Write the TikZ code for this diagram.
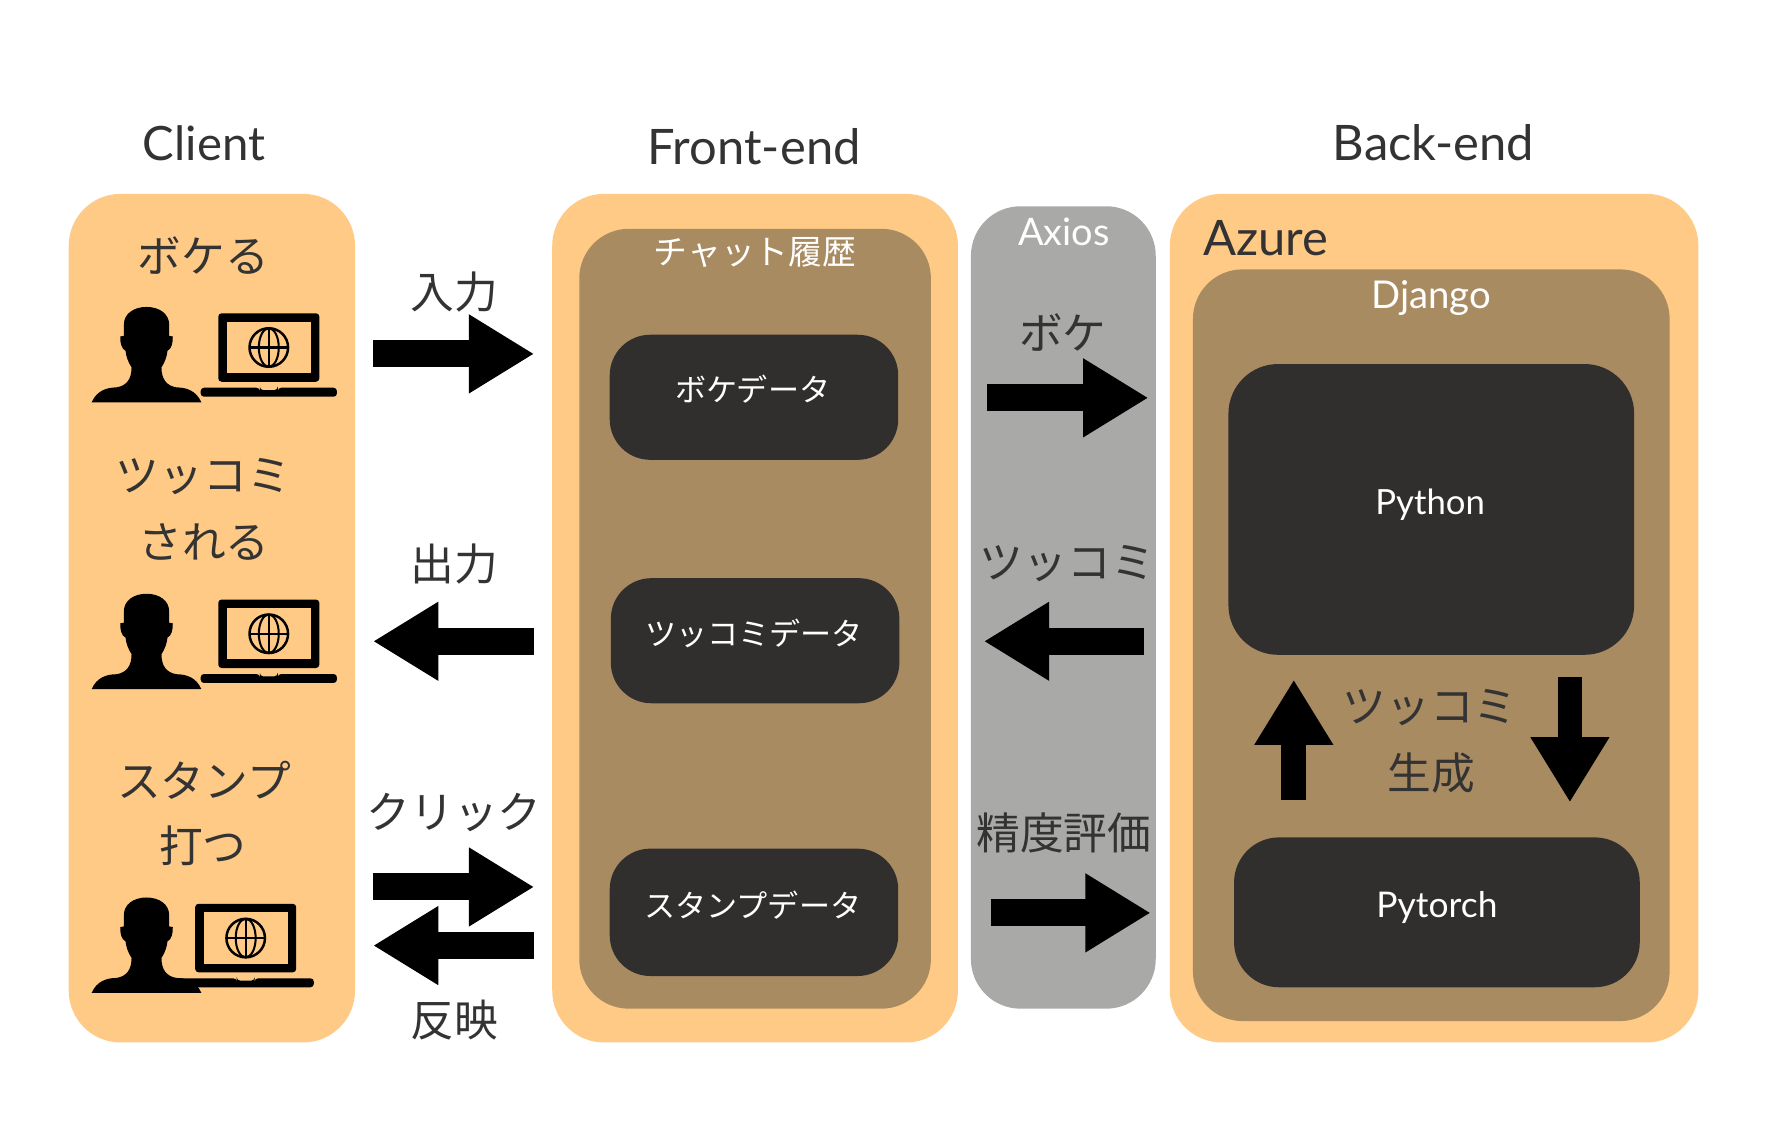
\documentclass[tikz,border=0pt]{standalone}
\usepackage{fontspec}
\setmainfont{Lato}
\newfontfamily\jpfont{Noto Sans CJK JP}
\usetikzlibrary{arrows.meta,calc}
\definecolor{peach}{HTML}{FFCA85}
\definecolor{khaki}{HTML}{A98B62}
\definecolor{coal}{HTML}{302F2E}
\definecolor{ash}{HTML}{A9A9A7}
\definecolor{ink}{HTML}{333333}
\tikzset{
  panel/.style={inner sep=0pt,outer sep=0pt},
  peachbox/.style={panel,fill=peach,rounded corners=23pt},
  khakibox/.style={panel,fill=khaki,rounded corners=22pt},
  coalbox/.style={panel,fill=coal,rounded corners=18pt},
  ashbox/.style={panel,fill=ash,rounded corners=22pt},
  head/.style={inner sep=0pt,text=ink,font=\fontsize{21.7}{25}\selectfont},
  lab/.style={inner sep=0pt,text=ink,font=\jpfont\fontsize{19.4}{23}\selectfont},
  wsmall/.style={inner sep=0pt,text=white,font=\jpfont\fontsize{13.8}{16}\selectfont},
  wlatin/.style={inner sep=0pt,text=white,font=\fontsize{16}{20}\selectfont},
  blockarr/.style={line width=12pt,-{Triangle[length=29pt,width=33pt]}},
  person/.pic={
    \begin{scope}[x=0.1475pt,y=0.1475pt]
      \fill (-165,0) .. controls (-150,35) and (-120,45) .. (-90,45)
        .. controls (-60,50) and (-45,70) .. (-45,105)
        .. controls (-55,120) and (-62,140) .. (-63,155)
        .. controls (-75,160) and (-80,180) .. (-79,198) -- (-68,200) -- (-68,235)
        .. controls (-68,265) and (-40,287) .. (0,287)
        .. controls (40,287) and (68,265) .. (68,235) -- (68,200) -- (79,198)
        .. controls (80,180) and (75,160) .. (63,155)
        .. controls (62,140) and (55,120) .. (45,105)
        .. controls (45,70) and (60,50) .. (90,45)
        .. controls (120,45) and (150,35) .. (165,0) -- cycle;
    \end{scope}
  },
  laptop/.pic={
    \begin{scope}[x=0.1475pt,y=0.1475pt]
      \fill[rounded corners=1.5pt] (-152,45) rectangle (152,251);
      \fill[peach] (-126,71) rectangle (126,225);
      \fill[rounded corners=1.5pt] (-205,0) -- (-205,27) -- (-27,27) -- (-27,20) -- (27,20) -- (27,27) -- (205,27) -- (205,0) -- cycle;
      \draw[line width=1.1pt] (0,148) circle (58);
      \draw[line width=0.9pt] (0,148) ellipse (30 and 58);
      \draw[line width=0.9pt] (0,90) -- (0,206);
      \draw[line width=0.9pt] (-58,148) -- (58,148);
    \end{scope}
  }
}
\begin{document}
\begin{tikzpicture}[x=0.5pt,y=-0.5pt]
  \useasboundingbox (0,0) rectangle (1567,998.2);
  % outer panels
  \node(client)[peachbox,minimum width=127pt,minimum height=376.5pt] at (188,548.5){};
  \node(front)[peachbox,minimum width=180pt,minimum height=376.5pt] at (670,548.5){};
  \node(axios)[ashbox,minimum width=82pt,minimum height=356pt] at (943.5,539){};
  \node(azure)[peachbox,minimum width=234.5pt,minimum height=376.5pt] at (1272.5,548.5){};
  % inner panels
  \node(chat)[khakibox,minimum width=156pt,minimum height=346pt] at (670,549){};
  \node(django)[khakibox,minimum width=211.5pt,minimum height=333.5pt] at (1270,572.5){};
  \node(bokedata)[coalbox,minimum width=128pt,minimum height=55.5pt] at (669,352.5){};
  \node(tsukkomidata)[coalbox,minimum width=128pt,minimum height=55.5pt] at (670,568.5){};
  \node(stampdata)[coalbox,minimum width=128pt,minimum height=56.5pt] at (669,809.5){};
  \node(python)[coalbox,rounded corners=22pt,minimum width=180pt,minimum height=129pt] at (1270,452){};
  \node(pytorch)[coalbox,rounded corners=20pt,minimum width=180pt,minimum height=66.5pt] at (1275,809.5){};
  % titles
  \node(clienttitle)[head,font=\fontsize{21}{25}\selectfont] at (181,127){Client};
  \node(fronttitle)[head] at (669,130){Front-end};
  \node(backtitle)[head] at (1272,127){Back-end};
  % client column
  \node(bokeru)[lab] at (180.5,227){ボケる};
  \node(tsukkomi)[lab] at (180.5,423){ツッコミ};
  \node(sareru)[lab] at (181,481){される};
  \node(stamp)[lab] at (181,692){スタンプ};
  \node(utsu)[lab] at (180,750){打つ};
  \pic at (130,357) {person};
  \pic at (238.5,352) {laptop};
  \pic at (130,611.5) {person};
  \pic at (238.5,606) {laptop};
  \pic at (130,881) {person};
  \pic at (218,876) {laptop};
  % between client and front-end
  \coordinate(rowin) at (0,314);
  \coordinate(rowout) at (0,569);
  \coordinate(rowclick) at (0,787);
  \coordinate(rowback) at (0,839);
  \draw[blockarr,shorten <=8pt,shorten >=8pt] (client.east |- rowin) -- (front.west |- rowin);
  \draw[blockarr,shorten <=8pt,shorten >=8pt] (front.west |- rowout) -- (client.east |- rowout);
  \draw[blockarr,shorten <=8pt,shorten >=8pt] (client.east |- rowclick) -- (front.west |- rowclick);
  \draw[blockarr,shorten <=8pt,shorten >=8pt] (front.west |- rowback) -- (client.east |- rowback);
  \node(nyuryoku)[lab] at (403,259){入力};
  \node(shutsuryoku)[lab] at (403,500){出力};
  \node(click)[lab] at (403,721){クリック};
  \node(hanei)[lab] at (403,905){反映};
  % front-end texts
  \node(chattitle)[wsmall,font=\jpfont\fontsize{15}{18}\selectfont] at (670,224){チャット履歴};
  \node(bokedatatext)[wsmall] at (668,345){ボケデータ};
  \node(tsukkomidatatext)[wsmall] at (669,562){ツッコミデータ};
  \node(stampdatatext)[wsmall] at (668,803){スタンプデータ};
  % axios
  \node(axiostitle)[wlatin,font=\fontsize{16.8}{20}\selectfont] at (944,206){Axios};
  \node(boke)[lab] at (943,295){ボケ};
  \node(tsukkomiax)[lab] at (947,500){ツッコミ};
  \node(seido)[lab] at (944,739){精度評価};
  \coordinate(rowboke) at (0,353);
  \coordinate(rowts) at (0,569);
  \coordinate(rowseido) at (0,810);
  \draw[blockarr,shorten <=13pt,shorten >=9.5pt] (front.east |- rowboke) -- (azure.west |- rowboke);
  \draw[blockarr,shorten <=11.5pt,shorten >=11.5pt] (azure.west |- rowts) -- (front.east |- rowts);
  \draw[blockarr,shorten <=14.5pt,shorten >=8.5pt] (front.east |- rowseido) -- (azure.west |- rowseido);
  % back-end
  \node(azuretitle)[head] at (1123,211){Azure};
  \node(djangotitle)[wlatin,font=\fontsize{17}{20}\selectfont] at (1270,264){Django};
  \node(pythontext)[wlatin,font=\fontsize{15.4}{20}\selectfont] at (1269,448){Python};
  \node(pytorchtext)[wlatin,font=\fontsize{15.7}{20}\selectfont] at (1275,805){Pytorch};
  \node(tsukkomibk)[lab] at (1269,628){ツッコミ};
  \node(seisei)[lab] at (1270,686){生成};
  \coordinate(colup) at (1148,0);
  \coordinate(coldown) at (1393,0);
  \draw[blockarr,line width=11pt,shorten <=16.5pt,shorten >=11pt] (colup |- pytorch.north) -- (colup |- python.south);
  \draw[blockarr,line width=11pt,shorten <=10pt,shorten >=15.5pt] (coldown |- python.south) -- (coldown |- pytorch.north);
\end{tikzpicture}
\end{document}
